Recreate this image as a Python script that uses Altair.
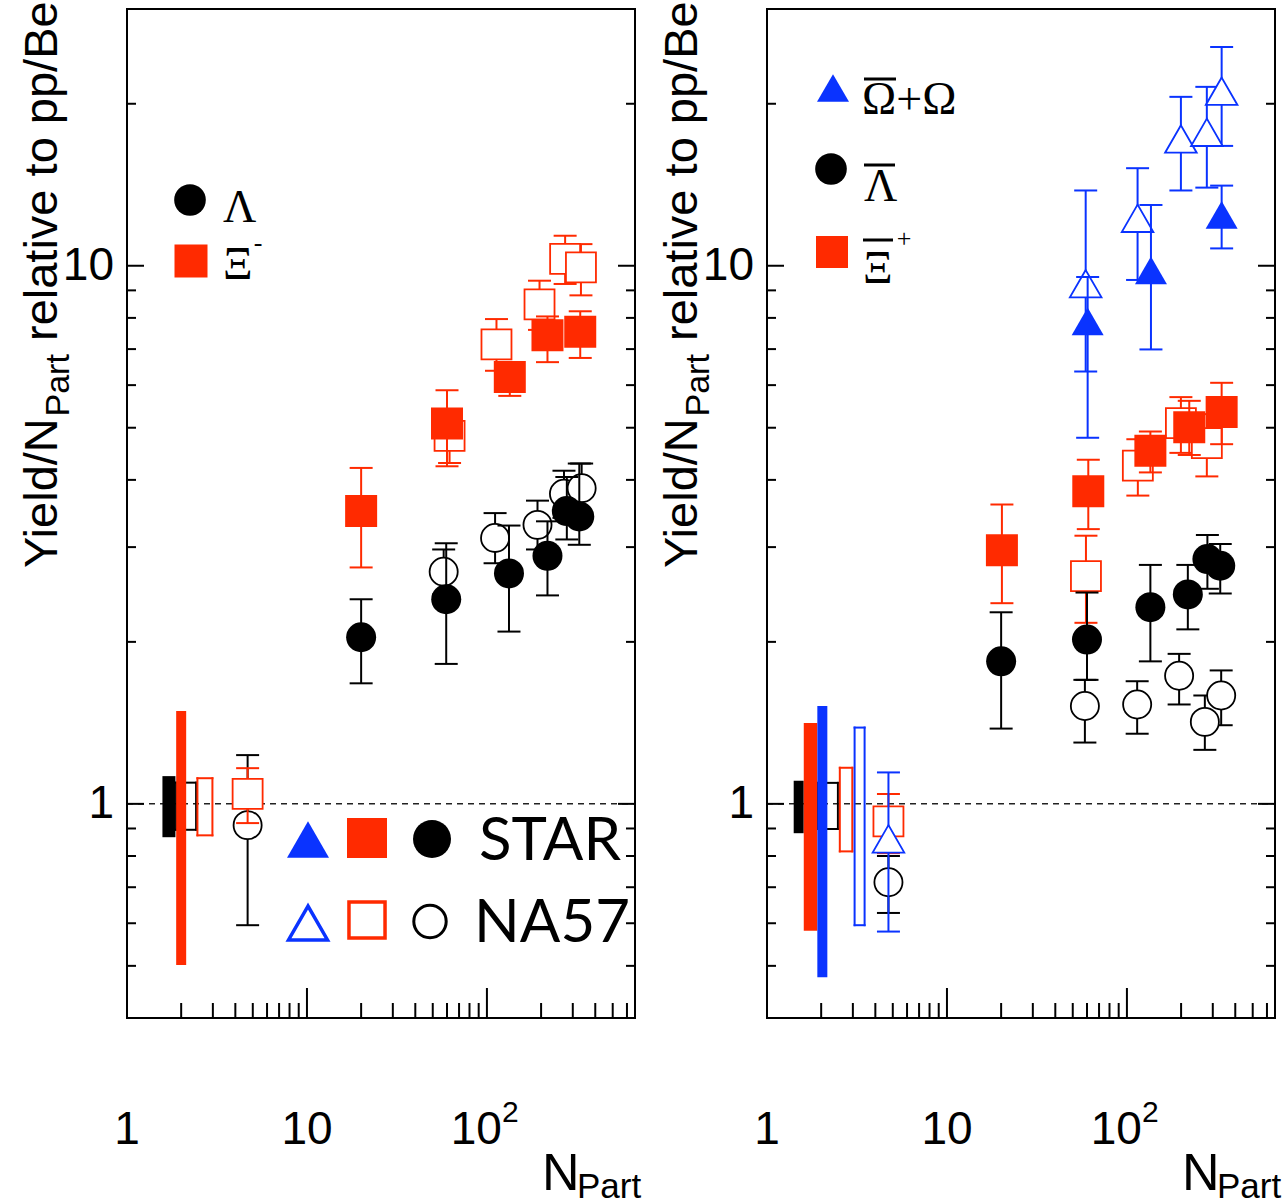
import altair as alt
import pandas as pd

# ---------------- axes ----------------
X_DOMAIN = [1, 665]
Y_DOMAIN = [0.4, 30]

Y_MAJOR = [1, 10]
Y_MINOR = [0.5, 0.6, 0.7, 0.8, 0.9, 2, 3, 4, 5, 6, 7, 8, 9, 20]
X_MAJOR = [10, 100]
X_MINOR = [2, 3, 4, 5, 6, 7, 8, 9, 20, 30, 40, 50, 60, 70, 80, 90,
           200, 300, 400, 500, 600]

Y_LABEL_VALUES = [1, 10]
Y_LABEL_TEXT = ["1", "10"]
X_LABEL_VALUES = [1, 10]
X_LABEL_TEXT = ["1", "10"]
X_POW_VALUES = [100]
X_POW_BASE = ["10"]
X_POW_EXP = ["2"]

# ---------------- left panel: Lambda and Xi- ----------------
LAM_STAR_N = [20, 59.4, 132.6, 217, 278, 326]
LAM_STAR_Y = [2.04, 2.40, 2.68, 2.89, 3.50, 3.42]
LAM_STAR_LO = [1.675, 1.82, 2.09, 2.44, 3.10, 3.03]
LAM_STAR_HI = [2.40, 3.05, 3.29, 3.35, 4.05, 4.29]

LAM_NA57_N = [4.68, 57.5, 111, 191, 268, 336]
LAM_NA57_Y = [0.913, 2.70, 3.12, 3.30, 3.77, 3.86]
LAM_NA57_LO = [0.595, 2.45, 2.80, 2.97, 3.40, 3.46]
LAM_NA57_HI = [1.232, 2.97, 3.47, 3.66, 4.16, 4.29]

XI_STAR_N = [20, 60, 134, 217, 330]
XI_STAR_Y = [3.50, 5.09, 6.21, 7.43, 7.54]
XI_STAR_LO = [2.75, 4.24, 5.73, 6.62, 6.74]
XI_STAR_HI = [4.21, 5.87, 6.60, 8.05, 8.23]

XI_NA57_N = [4.68, 62, 113, 196, 272, 333]
XI_NA57_Y = [1.044, 4.83, 7.14, 8.48, 10.3, 9.93]
XI_NA57_LO = [0.921, 4.30, 6.38, 7.60, 9.25, 8.81]
XI_NA57_HI = [1.165, 5.40, 7.96, 9.38, 11.37, 10.97]

# normalisation uncertainty boxes around unity (left panel)
NORM_L_N = [2.13, 1.71, 2.0, 2.71]
NORM_L_LO = [0.895, 0.867, 0.502, 0.874]
NORM_L_HI = [1.095, 1.126, 1.488, 1.116]
NORM_L_KIND = ["black_open", "black_fill", "red_fill", "red_open"]

# ---------------- right panel: anti-Lambda, anti-Xi+, Omega ----------------
OM_STAR_N = [60.5, 136, 336]
OM_STAR_Y = [7.88, 9.8, 12.43]
OM_STAR_LO = [4.79, 6.99, 10.77]
OM_STAR_HI = [9.53, 12.97, 14.09]

OM_NA57_N = [4.73, 59, 114.6, 199.5, 278, 336]
OM_NA57_Y = [0.861, 9.26, 12.25, 17.2, 17.7, 21.1]
OM_NA57_LO = [0.579, 6.36, 9.41, 13.8, 13.97, 16.7]
OM_NA57_HI = [1.144, 13.8, 15.18, 20.6, 21.5, 25.5]

AXI_STAR_N = [20.2, 61, 135, 222, 336]
AXI_STAR_Y = [2.96, 3.81, 4.53, 5.01, 5.35]
AXI_STAR_LO = [2.36, 3.24, 4.13, 4.45, 4.66]
AXI_STAR_HI = [3.60, 4.36, 4.92, 5.61, 6.06]

AXI_NA57_N = [4.73, 59.2, 115, 199.5, 278]
AXI_NA57_Y = [0.928, 2.65, 4.25, 5.10, 4.68]
AXI_NA57_LO = [0.81, 2.17, 3.74, 4.49, 4.06]
AXI_NA57_HI = [1.043, 3.15, 4.76, 5.70, 5.30]

ALAM_STAR_N = [20, 60, 135, 218, 280, 330]
ALAM_STAR_Y = [1.84, 2.02, 2.32, 2.45, 2.85, 2.77]
ALAM_STAR_LO = [1.38, 1.70, 1.84, 2.11, 2.51, 2.46]
ALAM_STAR_HI = [2.27, 2.47, 2.78, 2.78, 3.16, 3.04]

ALAM_NA57_N = [4.73, 58.4, 114, 195, 271, 334]
ALAM_NA57_Y = [0.715, 1.52, 1.53, 1.73, 1.42, 1.59]
ALAM_NA57_LO = [0.627, 1.30, 1.35, 1.53, 1.26, 1.40]
ALAM_NA57_HI = [0.80, 1.70, 1.69, 1.90, 1.59, 1.77]

NORM_R_N = [2.18, 1.50, 1.745, 2.03, 2.75, 3.27]
NORM_R_LO = [0.898, 0.882, 0.581, 0.476, 0.816, 0.595]
NORM_R_HI = [1.094, 1.104, 1.414, 1.52, 1.167, 1.386]
NORM_R_KIND = ["black_open", "black_fill", "red_fill", "blue_fill", "red_open", "blue_open"]

# ---------------- styling ----------------
W, H = 508, 1009
RED = "#ff2a00"
BLUE = "#0a33ff"
BLACK = "#000000"
SANS = "Liberation Sans"
SERIF = "Liberation Serif"
LEGEND_FONT = "Lato"
KIND_COLOR = {"black": BLACK, "red": RED, "blue": BLUE}
BOX_WIDTH_L = {"black_open": 22, "black_fill": 13, "red_fill": 10, "red_open": 17}
BOX_WIDTH_R = {"black_open": 22, "black_fill": 10, "red_fill": 13.5,
               "blue_fill": 10, "red_open": 14.5, "blue_open": 12}
CAP = "M-1,0L1,0"
FILLED_SIZE = {"circle": 900, "square": 1024, "triangle-up": 1024}
OPEN_SIZE = {"circle": 790, "square": 900, "triangle-up": 1000}

XS = alt.Scale(type="log", domain=X_DOMAIN, nice=False)
YS = alt.Scale(type="log", domain=Y_DOMAIN, nice=False)
ONE = pd.DataFrame({"k": [0]})


def X(field="n"):
    return alt.X(f"{field}:Q", scale=XS, axis=None)


def Y(field="v"):
    return alt.Y(f"{field}:Q", scale=YS, axis=None)


def series(n, v, lo, hi, color, shape, filled):
    df = pd.DataFrame({"n": n, "v": v, "lo": lo, "hi": hi})
    base = alt.Chart(df)
    err = base.mark_rule(color=color, strokeWidth=2).encode(
        x=X(), y=Y("lo"), y2=alt.Y2("hi:Q"))
    cap_lo = base.mark_point(shape=CAP, size=529, filled=False, color=color,
                             strokeWidth=2, opacity=1).encode(x=X(), y=Y("lo"))
    cap_hi = base.mark_point(shape=CAP, size=529, filled=False, color=color,
                             strokeWidth=2, opacity=1).encode(x=X(), y=Y("hi"))
    if filled:
        mk = base.mark_point(shape=shape, size=FILLED_SIZE[shape], filled=True,
                             color=color, opacity=1, strokeWidth=0)
    else:
        mk = base.mark_point(shape=shape, size=OPEN_SIZE[shape], fill="white",
                             stroke=color, strokeWidth=1.8, opacity=1)
    return [err, cap_lo, cap_hi, mk.encode(x=X(), y=Y("v"))]


def norm_boxes(n, lo, hi, kinds, widths):
    """Uncertainty boxes centred on their N_part position."""
    layers = []
    for xi, l, h, kind in zip(n, lo, hi, kinds):
        colour = KIND_COLOR[kind.split("_")[0]]
        w = widths[kind]
        base = alt.Chart(pd.DataFrame({"n": [xi], "lo": [l], "hi": [h]}))
        if kind.endswith("fill"):
            layers.append(base.mark_rule(color=colour, strokeWidth=w, strokeCap="butt",
                                         opacity=1).encode(
                x=X(), y=Y("lo"), y2=alt.Y2("hi:Q")))
        else:
            half = w / 2 - 1
            for off in (-half, half):
                layers.append(base.mark_rule(color=colour, strokeWidth=2, xOffset=off,
                                             strokeCap="square").encode(
                    x=X(), y=Y("lo"), y2=alt.Y2("hi:Q")))
            for end in ("lo", "hi"):
                layers.append(base.mark_rule(color=colour, strokeWidth=2,
                                             xOffset=-half, x2Offset=half,
                                             strokeCap="square").encode(
                    x=X(), x2=alt.X2("n:Q"), y=Y(end)))
    return layers


def frame_layers():
    layers = []
    unity = alt.Chart(pd.DataFrame({"v": [1]})).mark_rule(
        color="#222222", strokeWidth=1.5, strokeDash=[6, 5]).encode(
        y=Y("v"), x=alt.value(0), x2=alt.value(W))
    layers.append(unity)
    for vals, L in ((Y_MAJOR, 17), (Y_MINOR, 9)):
        d = pd.DataFrame({"v": vals})
        layers.append(alt.Chart(d).mark_rule(color="black", strokeWidth=2).encode(
            y=Y("v"), x=alt.value(0), x2=alt.value(L)))
        layers.append(alt.Chart(d).mark_rule(color="black", strokeWidth=2).encode(
            y=Y("v"), x=alt.value(W - L), x2=alt.value(W)))
    for vals, L in ((X_MAJOR, 30), (X_MINOR, 15)):
        d = pd.DataFrame({"v": vals})
        layers.append(alt.Chart(d).mark_rule(color="black", strokeWidth=2).encode(
            x=X("v"), y=alt.value(H), y2=alt.value(H - L)))
    return layers


def label_layers():
    ylab = pd.DataFrame({"v": Y_LABEL_VALUES, "t": Y_LABEL_TEXT})
    xlab = pd.DataFrame({"v": X_LABEL_VALUES, "t": X_LABEL_TEXT})
    xpow = pd.DataFrame({"v": X_POW_VALUES, "b": X_POW_BASE, "e": X_POW_EXP})
    layers = [
        alt.Chart(ylab).mark_text(align="right", baseline="middle", font=SANS,
                                  fontSize=46, color="black").encode(
            y=Y("v"), x=alt.value(-13), text="t:N"),
        alt.Chart(xlab).mark_text(align="center", baseline="alphabetic", font=SANS,
                                  fontSize=46, color="black").encode(
            x=X("v"), y=alt.value(1135), text="t:N"),
        alt.Chart(xpow).mark_text(align="right", baseline="alphabetic", font=SANS,
                                  fontSize=46, color="black", dx=15).encode(
            x=X("v"), y=alt.value(1135), text="b:N"),
        alt.Chart(xpow).mark_text(align="left", baseline="alphabetic", font=SANS,
                                  fontSize=30, color="black", dx=15).encode(
            x=X("v"), y=alt.value(1113), text="e:N"),
    ]
    # axis titles with subscripts
    txt = alt.Chart(ONE)
    layers += [
        txt.mark_text(text="Yield/N", angle=270, align="left", baseline="alphabetic",
                      font=SANS, fontSize=47, color="black").encode(
            x=alt.value(-70), y=alt.value(559)),
        txt.mark_text(text="Part", angle=270, align="left", baseline="alphabetic",
                      font=SANS, fontSize=34, color="black").encode(
            x=alt.value(-58), y=alt.value(407.5)),
        txt.mark_text(text="relative to pp/Be", angle=270, align="left",
                      baseline="alphabetic", font=SANS, fontSize=47,
                      color="black").encode(x=alt.value(-70), y=alt.value(332)),
        txt.mark_text(text="N", align="left", baseline="alphabetic", font=SANS,
                      fontSize=52, color="black").encode(
            x=alt.value(415), y=alt.value(1181)),
        txt.mark_text(text="Part", align="left", baseline="alphabetic", font=SANS,
                      fontSize=35, color="black").encode(
            x=alt.value(450), y=alt.value(1189)),
    ]
    return layers


def sym(shape, size, x, y, color, filled, sw=0):
    if filled:
        m = alt.Chart(ONE).mark_point(shape=shape, size=size, filled=True,
                                      color=color, opacity=1, strokeWidth=0)
    else:
        m = alt.Chart(ONE).mark_point(shape=shape, size=size, filled=False,
                                      color=color, opacity=1, strokeWidth=sw)
    return m.encode(x=alt.value(x), y=alt.value(y))


def label(text, x, y, font, size, align="left"):
    return alt.Chart(ONE).mark_text(text=text, align=align, baseline="alphabetic",
                                    font=font, fontSize=size, color="black").encode(
        x=alt.value(x), y=alt.value(y))


def overline(x1, x2, y):
    return alt.Chart(ONE).mark_rule(color="black", strokeWidth=3).encode(
        x=alt.value(x1), x2=alt.value(x2), y=alt.value(y))


# ---------------- left panel ----------------
left_layers = frame_layers()[:1]
left_layers += norm_boxes(NORM_L_N, NORM_L_LO, NORM_L_HI, NORM_L_KIND, BOX_WIDTH_L)
left_layers += series(LAM_NA57_N, LAM_NA57_Y, LAM_NA57_LO, LAM_NA57_HI, BLACK, "circle", False)
left_layers += series(XI_NA57_N, XI_NA57_Y, XI_NA57_LO, XI_NA57_HI, RED, "square", False)
left_layers += series(LAM_STAR_N, LAM_STAR_Y, LAM_STAR_LO, LAM_STAR_HI, BLACK, "circle", True)
left_layers += series(XI_STAR_N, XI_STAR_Y, XI_STAR_LO, XI_STAR_HI, RED, "square", True)
left_layers += frame_layers()[1:]
left_layers += label_layers()
left_layers += [
    sym("circle", 1000, 63, 191, BLACK, True),
    label("Λ", 96, 213, SERIF, 46),
    sym("square", 1089, 64, 252, RED, True),
    label("Ξ", 96, 270, SERIF, 46),
    label("-", 131, 242, SERIF, 26, align="center"),
    # experiment key
    sym("triangle-up", 1764, 181, 830.5, BLUE, True),
    sym("square", 1600, 240, 829, RED, True),
    sym("circle", 1444, 305, 830, BLACK, True),
    label("STAR", 352, 851, LEGEND_FONT, 60),
    sym("triangle-up", 1520, 181, 914, BLUE, False, 3.5),
    sym("square", 1300, 240, 911, RED, False, 3.5),
    sym("circle", 1050, 303, 912.5, BLACK, False, 3),
    label("NA57", 347, 933, LEGEND_FONT, 60),
    # anchors the page's top-left corner
    alt.Chart(ONE).mark_rule(color="white", strokeWidth=1).encode(
        x=alt.value(-125.5), x2=alt.value(-124.5), y=alt.value(-6.5)),
]
left = alt.layer(*left_layers).properties(width=W, height=H)

# ---------------- right panel ----------------
right_layers = frame_layers()[:1]
right_layers += norm_boxes(NORM_R_N, NORM_R_LO, NORM_R_HI, NORM_R_KIND, BOX_WIDTH_R)
right_layers += series(ALAM_NA57_N, ALAM_NA57_Y, ALAM_NA57_LO, ALAM_NA57_HI, BLACK, "circle", False)
right_layers += series(AXI_NA57_N, AXI_NA57_Y, AXI_NA57_LO, AXI_NA57_HI, RED, "square", False)
right_layers += series(OM_NA57_N, OM_NA57_Y, OM_NA57_LO, OM_NA57_HI, BLUE, "triangle-up", False)
right_layers += series(ALAM_STAR_N, ALAM_STAR_Y, ALAM_STAR_LO, ALAM_STAR_HI, BLACK, "circle", True)
right_layers += series(AXI_STAR_N, AXI_STAR_Y, AXI_STAR_LO, AXI_STAR_HI, RED, "square", True)
right_layers += series(OM_STAR_N, OM_STAR_Y, OM_STAR_LO, OM_STAR_HI, BLUE, "triangle-up", True)
right_layers += frame_layers()[1:]
right_layers += label_layers()
right_layers += [
    sym("triangle-up", 1024, 66, 79, BLUE, True),
    label("Ω+Ω", 95, 105, SERIF, 46),
    overline(97, 129, 70),
    sym("circle", 1000, 64, 160, BLACK, True),
    label("Λ", 97, 192, SERIF, 46),
    overline(97, 128, 156),
    sym("square", 1024, 65, 243, RED, True),
    label("Ξ", 96, 274, SERIF, 46),
    overline(96, 126, 231),
    label("+", 137, 238, SERIF, 26, align="center"),
]
right = alt.layer(*right_layers).properties(width=W, height=H)

chart = alt.hconcat(left, right, spacing=132, bounds="flush").properties(
    padding=0, background="white"
).configure_view(stroke="black", strokeWidth=2)

chart.save("out.html", embed_options={"renderer": "svg", "actions": False})
